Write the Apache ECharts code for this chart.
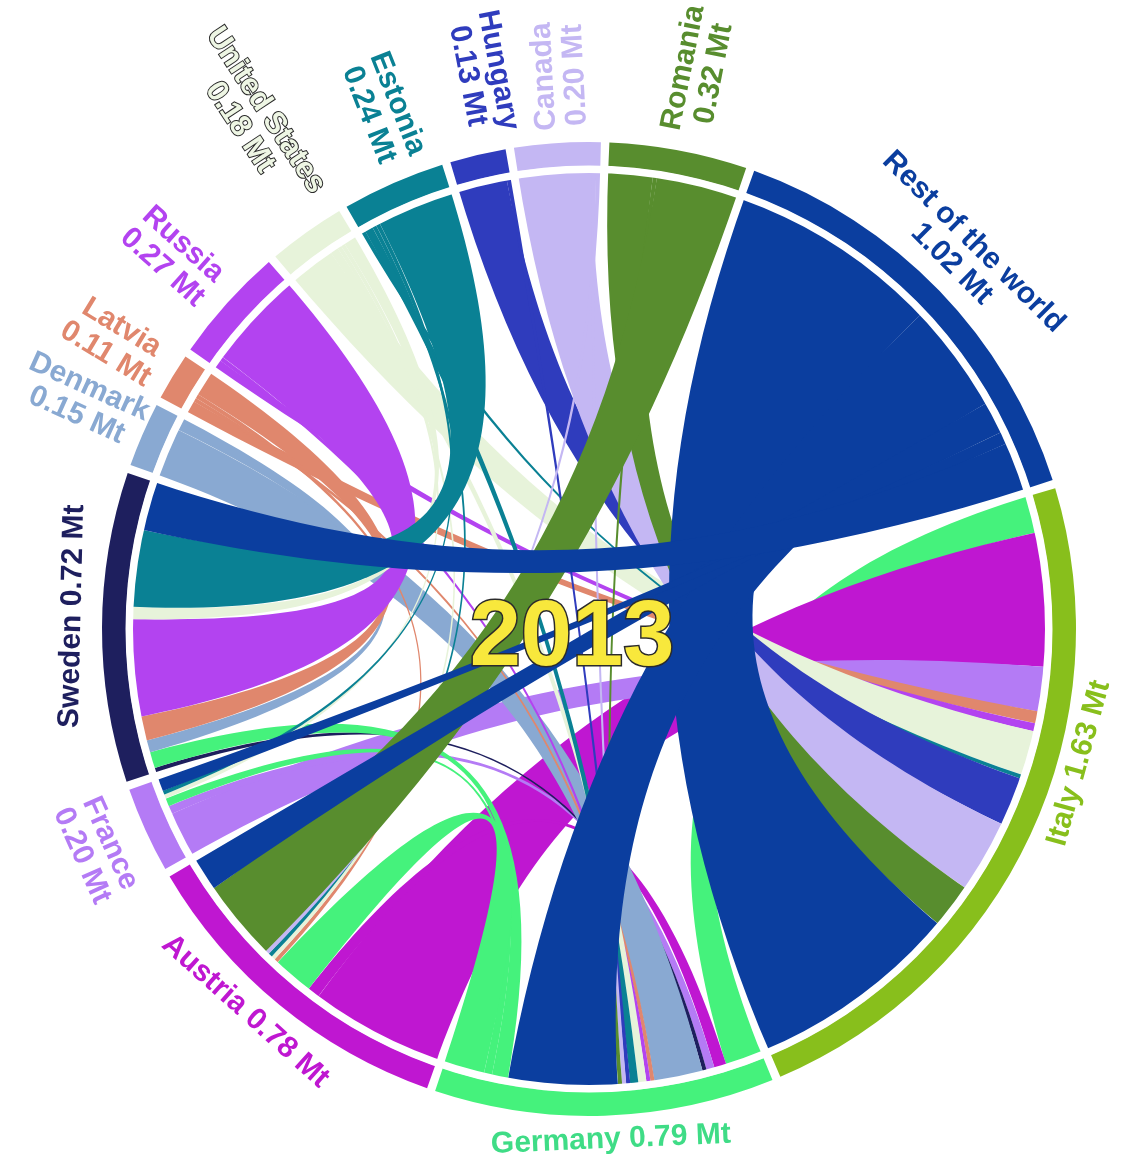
<!DOCTYPE html>
<html>
<head>
<meta charset="utf-8">
<title>2013</title>
<script src="https://cdn.jsdelivr.net/npm/echarts@6/dist/echarts.min.js"></script>
<style>
    html, body { margin: 0; padding: 0; background: #fff; }
    #main { width: 1124px; height: 1161px; }
</style>
</head>
<body>
<div id="main"></div>
<script>
// countries round the ring, clockwise from the top
var countries = ['Romania', 'Rest of the world', 'Italy', 'Germany', 'Austria', 'France', 'Sweden',
    'Denmark', 'Latvia', 'Russia', 'United States', 'Estonia', 'Hungary', 'Canada'];
// total trade of each country, Mt
var totals = [0.32, 1.02, 1.63, 0.79, 0.78, 0.20, 0.72, 0.15, 0.11, 0.27, 0.18, 0.24, 0.13, 0.20];
var colors = ['#588d2e', '#0b3e9f', '#88bf1c', '#45f27c', '#bf17d1', '#b47bf5', '#1e1f5e',
    '#89a9d2', '#e0876d', '#b343f0', '#e7f3da', '#0a8194', '#2f3cbd', '#c4b7f3'];

// flows, exporter -> importer, Mt
var flowFrom = [
    'Romania', 'Romania', 'Romania',
    'Rest of the world', 'Rest of the world', 'Rest of the world', 'Rest of the world', 'Rest of the world',
    'Germany', 'Germany', 'Germany', 'Germany',
    'Austria', 'Austria',
    'France', 'France',
    'Sweden',
    'Denmark', 'Denmark',
    'Latvia', 'Latvia', 'Latvia', 'Latvia',
    'Russia', 'Russia', 'Russia',
    'United States', 'United States', 'United States', 'United States', 'United States',
    'Estonia', 'Estonia', 'Estonia', 'Estonia', 'Estonia',
    'Hungary', 'Hungary',
    'Canada', 'Canada', 'Canada'
];
var flowTo = [
    'Italy', 'Germany', 'Austria',
    'Italy', 'Germany', 'Austria', 'France', 'Sweden',
    'Italy', 'Austria', 'France', 'Sweden',
    'Italy', 'Germany',
    'Italy', 'Germany',
    'Germany',
    'Sweden', 'Germany',
    'Italy', 'Germany', 'Austria', 'Sweden',
    'Italy', 'Germany', 'Sweden',
    'Italy', 'Germany', 'Austria', 'France', 'Sweden',
    'Italy', 'Germany', 'Austria', 'France', 'Sweden',
    'Italy', 'Germany',
    'Italy', 'Germany', 'Austria'
];
var flowMt = [
    0.11, 0.01, 0.20,
    0.52, 0.27, 0.08, 0.03, 0.12,
    0.09, 0.10, 0.02, 0.04,
    0.33, 0.03,
    0.11, 0.02,
    0.01,
    0.03, 0.12,
    0.03, 0.01, 0.01, 0.06,
    0.02, 0.01, 0.24,
    0.11, 0.02, 0.01, 0.01, 0.03,
    0.01, 0.02, 0.01, 0.01, 0.19,
    0.12, 0.01,
    0.18, 0.01, 0.01
];

// order in which ribbons stack inside each arc (Italy side first)
var stackOrder = ['Italy', 'Germany', 'Austria', 'France', 'Sweden', 'Denmark', 'Latvia', 'Russia',
    'United States', 'Estonia', 'Hungary', 'Canada', 'Romania', 'Rest of the world'];
// Germany's exports to these sit at the far end of its arc
var lateExports = ['Austria', 'France', 'Sweden'];

// label placement: orientation, shift along the ring (deg), distance outside the ring (px)
var labelMode = ['out', 'tan', 'flip', 'flip', 'flip', 'flip', 'tan', 'in', 'in', 'in', 'in', 'in', 'in', 'out'];
var labelShift = [0.5, -1.2, -9.7, -0.6, 2.5, 0.3, 1.2, 0.7, 0, -0.1, 2.1, 2.1, 2.4, 0.7];
var labelDist = [82, 43, 21, 24, 27, 53, 30, 68, 69, 72, 124, 72, 79, 67];
var oneLine = ['Italy', 'Germany', 'Austria', 'Sweden'];

var cx = 589, cy = 629, outerR = 487, innerR = 463;
var startDeg = 87.6, padDeg = 1;

var nodes = countries.map(function (name, i) {
    return { name: name, value: totals[i], itemStyle: { color: colors[i] } };
});

var links = flowFrom.map(function (s, i) {
    return { source: s, target: flowTo[i], value: flowMt[i] };
});
links.sort(function (a, b) {
    var ka = [stackOrder.indexOf(a.source), stackOrder.indexOf(a.target)].sort(function (x, y) { return x - y; });
    var kb = [stackOrder.indexOf(b.source), stackOrder.indexOf(b.target)].sort(function (x, y) { return x - y; });
    return ka[0] - kb[0] || ka[1] - kb[1];
});

// place of a link inside the arc of one of its ends
function edgeKey(node, link) {
    var other = link.source === node ? link.target : link.source;
    var k = stackOrder.indexOf(other);
    if (node === 'Germany' && link.source === 'Germany' && lateExports.indexOf(other) >= 0) k = 30 - k;
    return k + (link.source === node ? 0 : 0.5);
}

// the series stacks links in the order given, so sort them so every arc gets its own order
var after = links.map(function () { return []; });
var indeg = links.map(function () { return 0; });
countries.forEach(function (c) {
    var inc = [];
    links.forEach(function (l, i) { if (l.source === c || l.target === c) inc.push(i); });
    inc.sort(function (a, b) { return edgeKey(c, links[a]) - edgeKey(c, links[b]) || a - b; });
    for (var j = 1; j < inc.length; j++) {
        after[inc[j - 1]].push(inc[j]);
        indeg[inc[j]]++;
    }
});
var ordered = [], used = links.map(function () { return false; });
while (ordered.length < links.length) {
    var pick = -1;
    for (var i = 0; i < links.length; i++) {
        if (!used[i] && indeg[i] === 0) { pick = i; break; }
    }
    if (pick < 0) {
        for (i = 0; i < links.length; i++) if (!used[i]) { pick = i; break; }
    }
    used[pick] = true;
    ordered.push(links[pick]);
    after[pick].forEach(function (k) { indeg[k]--; });
}

var chart = echarts.init(document.getElementById('main'));
chart.setOption({
    animation: false,
    backgroundColor: '#ffffff',
    series: [{
        type: 'chord',
        center: [cx, cy],
        radius: [innerR, outerR],
        startAngle: startDeg,
        clockwise: true,
        padAngle: padDeg,
        minAngle: 0,
        silent: true,
        label: { show: false },
        itemStyle: { borderWidth: 0, borderRadius: 0 },
        lineStyle: { color: 'source', opacity: 1, width: 0 },
        emphasis: { disabled: true },
        data: nodes,
        links: ordered
    }]
});

// middle angle of each arc (radians, screen coords)
function midAngle(i) {
    try {
        var lay = chart.getModel().getSeriesByIndex(0).getData().getItemLayout(i);
        if (lay && isFinite(lay.startAngle) && isFinite(lay.endAngle)) {
            return (lay.startAngle + lay.endAngle) / 2;
        }
    } catch (e) {}
    var sum = totals.reduce(function (a, b) { return a + b; }, 0);
    var unit = (360 - padDeg * totals.length) / sum;
    var a = -startDeg;
    for (var j = 0; j < i; j++) a += totals[j] * unit + padDeg;
    return (a + totals[i] * unit / 2) * Math.PI / 180;
}

var elements = [{
    // thin white band between the ribbons and the ring
    type: 'ring',
    silent: true,
    z: 10,
    shape: { cx: cx, cy: cy, r: innerR + 0.5, r0: innerR - 7 },
    style: { fill: '#ffffff' }
}];

countries.forEach(function (name, i) {
    var phi = midAngle(i) + labelShift[i] * Math.PI / 180;
    var r = outerR + labelDist[i];
    var rot;
    if (labelMode[i] === 'out') rot = -phi;
    else if (labelMode[i] === 'in') rot = -phi + Math.PI;
    else if (labelMode[i] === 'tan') rot = -phi - Math.PI / 2;
    else rot = -phi + Math.PI / 2;
    var txt = name + (oneLine.indexOf(name) >= 0 ? ' ' : '\n') + totals[i].toFixed(2) + ' Mt';
    var us = name === 'United States';
    elements.push({
        type: 'text',
        x: cx + r * Math.cos(phi),
        y: cy + r * Math.sin(phi),
        rotation: rot,
        silent: true,
        z: 20,
        style: {
            text: txt,
            fill: us ? '#eef6e4' : (name === 'Germany' ? '#3fdc86' : colors[i]),
            stroke: us ? '#2a2a2a' : null,
            lineWidth: us ? 2 : 0,
            font: 'bold 30px "Liberation Sans", Arial, sans-serif',
            lineHeight: 31,
            align: 'center',
            verticalAlign: 'middle',
            textAlign: 'center',
            textVerticalAlign: 'middle'
        }
    });
});

elements.push({
    type: 'text',
    x: 572,
    y: 640,
    silent: true,
    z: 100,
    style: {
        text: '2013',
        fill: '#f8e83c',
        stroke: '#2b2b2b',
        lineWidth: 3,
        font: 'bold 92px "Liberation Sans", Arial, sans-serif',
        align: 'center',
        verticalAlign: 'middle',
        textAlign: 'center',
        textVerticalAlign: 'middle'
    }
});

chart.setOption({ graphic: { elements: elements } });
</script>
</body>
</html>
